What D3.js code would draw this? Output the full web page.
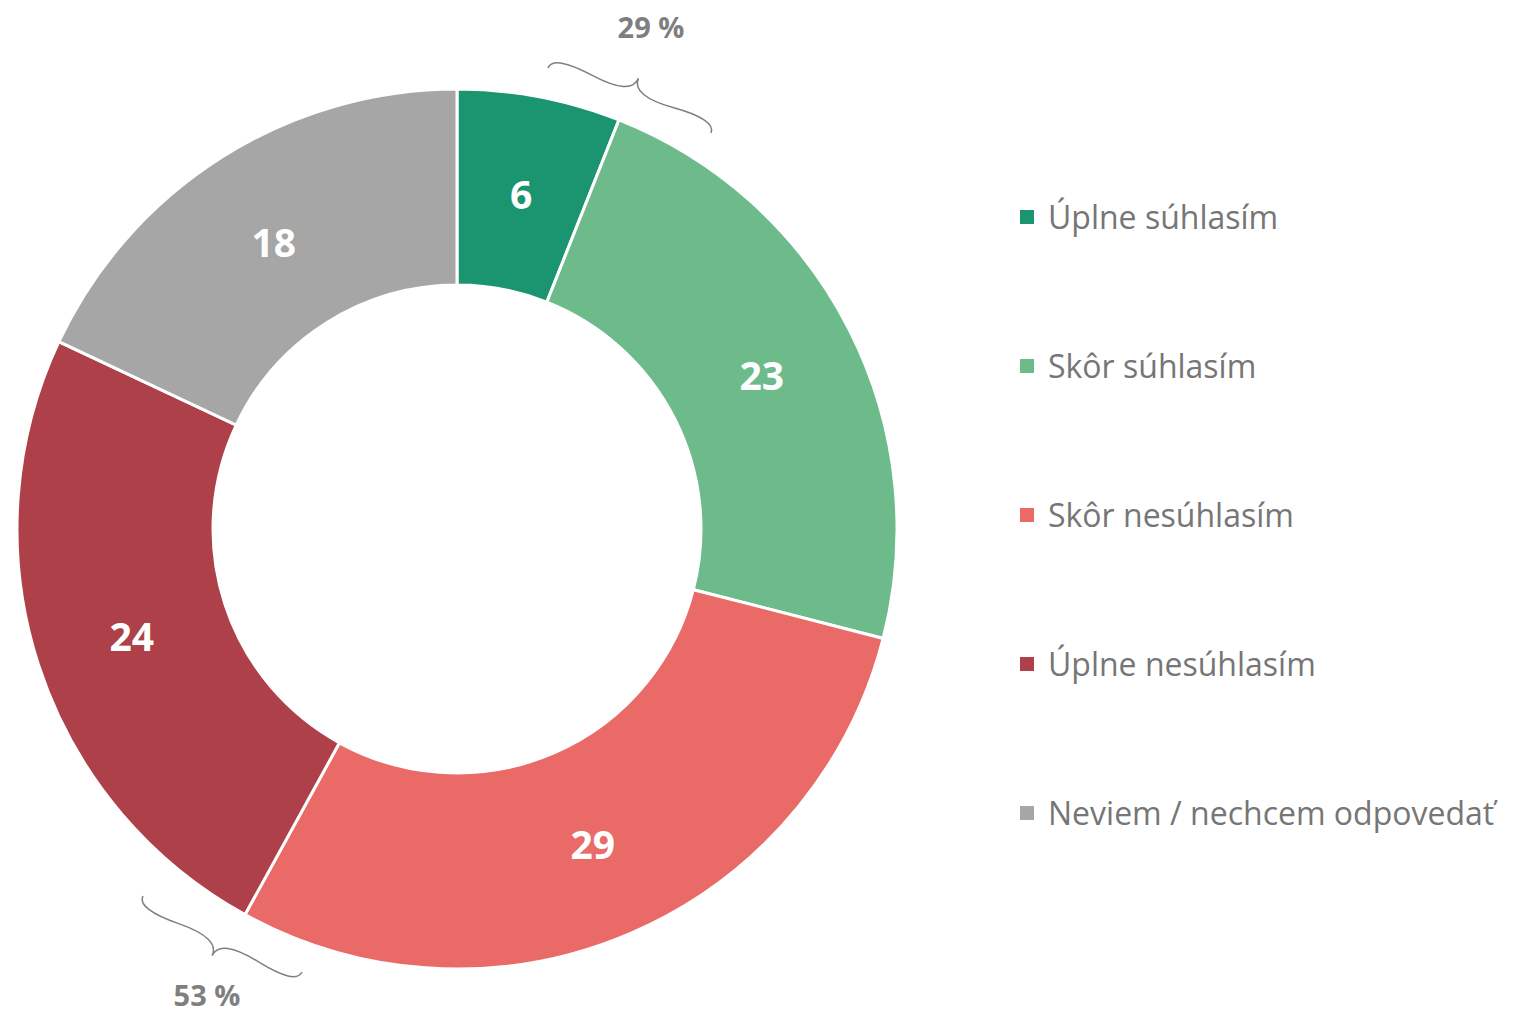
<!DOCTYPE html>
<html>
<head>
<meta charset="utf-8">
<script src="https://cdn.jsdelivr.net/npm/d3@7"></script>
<style>
  body { margin: 0; background: #fff; }
  text { font-family: "Open Sans", "Noto Sans", sans-serif; }
</style>
</head>
<body>
<svg width="1514" height="1017"></svg>
<script>
// survey answers, clockwise from 12 o'clock
const categories = ["Úplne súhlasím", "Skôr súhlasím", "Skôr nesúhlasím", "Úplne nesúhlasím", "Neviem / nechcem odpovedať"]
const values = [6, 23, 29, 24, 18]
const colors = ["#1b9570", "#6dbb8b", "#e96a67", "#ad4048", "#a6a6a6"]
// group totals shown next to the braces
const groupLabels = ["29 %", "53 %"]

let svg = d3.select("svg"),
    cx = 457, cy = 529,
    outerR = 440, innerR = 244

let pie = d3.pie().sort(null).value(d => d)
let arc = d3.arc().innerRadius(innerR).outerRadius(outerR)
let arcs = pie(values)

let g = svg.append("g").attr("transform", `translate(${cx},${cy})`)

g.selectAll("path")
  .data(arcs)
  .enter().append("path")
    .attr("d", arc)
    .attr("fill", (d, i) => colors[i])
    .attr("stroke", "#fff")
    .attr("stroke-width", 3)

g.selectAll("text.val")
  .data(arcs)
  .enter().append("text")
    .attr("class", "val")
    .attr("transform", d => `translate(${arc.centroid(d)})`)
    .attr("text-anchor", "middle")
    .attr("dy", "0.42em")
    .attr("fill", "#fff")
    .attr("font-size", 39)
    .attr("font-weight", "bold")
    .text(d => d.data)

// curly brace between two points, tip pushed out by w
function brace(x1, y1, x2, y2, w, q) {
  let dx = x1 - x2, dy = y1 - y2
  let len = Math.hypot(dx, dy)
  dx /= len; dy /= len
  let qx1 = x1 + q * w * dy, qy1 = y1 - q * w * dx
  let qx2 = (x1 - .25 * len * dx) + (1 - q) * w * dy, qy2 = (y1 - .25 * len * dy) - (1 - q) * w * dx
  let tx = (x1 - .5 * len * dx) + w * dy, ty = (y1 - .5 * len * dy) - w * dx
  let qx3 = x2 + q * w * dy, qy3 = y2 - q * w * dx
  let qx4 = (x1 - .75 * len * dx) + (1 - q) * w * dy, qy4 = (y1 - .75 * len * dy) - (1 - q) * w * dx
  return `M${x1},${y1}Q${qx1},${qy1} ${qx2},${qy2}T${tx},${ty}` +
         `M${x2},${y2}Q${qx3},${qy3} ${qx4},${qy4}T${tx},${ty}`
}

let braces = [
  {p: [548, 68, 711, 133], label: [651, 28]},
  {p: [302, 972, 143, 896], label: [207, 996]}
]

braces.forEach((b, i) => {
  svg.append("path")
    .attr("d", brace(...b.p, -24, 0.6))
    .attr("fill", "none")
    .attr("stroke", "#7f7f7f")
    .attr("stroke-width", 1.5)
  svg.append("text")
    .attr("x", b.label[0]).attr("y", b.label[1])
    .attr("dy", "0.36em")
    .attr("text-anchor", "middle")
    .attr("fill", "#7f7f7f")
    .attr("font-size", 29)
    .attr("font-weight", "bold")
    .text(groupLabels[i])
})

let legend = svg.append("g")
  .selectAll("g")
  .data(categories)
  .enter().append("g")
    .attr("transform", (d, i) => `translate(1020,${217 + i * 149})`)

legend.append("rect")
  .attr("x", 0).attr("y", -7)
  .attr("width", 14).attr("height", 14)
  .attr("fill", (d, i) => colors[i])

legend.append("text")
  .attr("x", 28)
  .attr("dy", "0.36em")
  .attr("fill", "#767676")
  .attr("font-size", 32)
  .text(d => d)
</script>
</body>
</html>
